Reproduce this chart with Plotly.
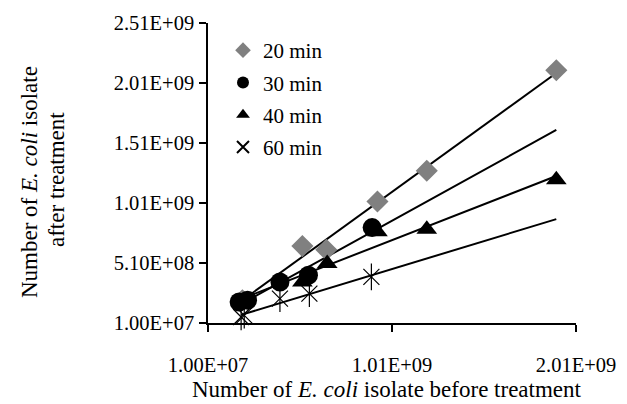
import numpy as np
import plotly.graph_objects as go

# ---- data ----
x20 = [0.197e9, 0.523e9, 0.653e9, 0.931e9, 1.199e9, 1.903e9]
y20 = [0.200e9, 0.651e9, 0.620e9, 1.022e9, 1.279e9, 2.116e9]

x30 = [0.179e9, 0.225e9, 0.401e9, 0.556e9, 0.902e9]
y30 = [0.185e9, 0.200e9, 0.352e9, 0.408e9, 0.805e9]

x40 = [0.197e9, 0.523e9, 0.658e9, 0.931e9, 1.199e9, 1.903e9]
y40 = [0.190e9, 0.352e9, 0.506e9, 0.771e9, 0.791e9, 1.204e9]

x60 = [0.190e9, 0.207e9, 0.401e9, 0.561e9, 0.898e9]
y60 = [0.060e9, 0.074e9, 0.213e9, 0.255e9, 0.394e9]

series_names = ["20 min", "30 min", "40 min", "60 min"]

x_tickvals = [1.0e7, 1.01e9, 2.01e9]
x_ticktext = ["1.00E+07", "1.01E+09", "2.01E+09"]
y_tickvals = [1.0e7, 5.1e8, 1.01e9, 1.51e9, 2.01e9, 2.51e9]
y_ticktext = ["1.00E+07", "5.10E+08", "1.01E+09", "1.51E+09", "2.01E+09", "2.51E+09"]

x_title = "Number of <i>E. coli</i> isolate before treatment"
y_title_lines = ["Number of <i>E. coli</i> isolate", "after treatment"]

# ---- layout constants ----
W, H = 627, 404
ML, MR, MT, MB = 208, 51, 23, 81
FONT = "Liberation Serif, Times New Roman, serif"

fig = go.Figure()

xmax_all = max(max(x20), max(x30), max(x40), max(x60))

data = [(x20, y20), (x30, y30), (x40, y40), (x60, y60)]
for xs, ys in data:
    k, b = np.polyfit(xs, ys, 1)
    xl = np.array([min(xs), xmax_all])
    fig.add_trace(go.Scatter(x=xl, y=k * xl + b, mode="lines",
                             line=dict(color="black", width=2),
                             showlegend=False, hoverinfo="skip", cliponaxis=False))

fig.add_trace(go.Scatter(x=x20, y=y20, mode="markers", name=series_names[0], legendgroup="a",
                         marker=dict(symbol="diamond", size=17, color="#808080"), cliponaxis=False))
fig.add_trace(go.Scatter(x=x30, y=y30, mode="markers", name=series_names[1], legendgroup="b",
                         marker=dict(symbol="circle", size=19, color="black"), cliponaxis=False))
fig.add_trace(go.Scatter(x=x40, y=y40, mode="markers", name=series_names[2], legendgroup="c",
                         marker=dict(symbol="triangle-up", size=18, color="black"), cliponaxis=False))
fig.add_trace(go.Scatter(x=x60, y=y60, mode="markers", name=series_names[3], legendgroup="d",
                         marker=dict(symbol="x-thin-open", size=16, color="black",
                                     line=dict(width=1.2, color="black")), cliponaxis=False))
fig.add_trace(go.Scatter(x=x60, y=y60, mode="markers", legendgroup="d", showlegend=False,
                         marker=dict(symbol="line-ns-open", size=19, color="black",
                                     line=dict(width=1.2, color="black")), cliponaxis=False))

pw = W - ML - MR
ph = H - MT - MB


def px_x(p):
    return (p - ML) / pw


def px_y(p):
    return 1 - (p - MT) / ph


tickfont = dict(family=FONT, size=20.5, color="black")
titlefont = dict(family=FONT, size=23, color="black")

fig.update_layout(
    width=W, height=H,
    margin=dict(l=ML, r=MR, t=MT, b=MB),
    paper_bgcolor="white", plot_bgcolor="white",
    font=dict(family=FONT, size=18, color="black"),
    showlegend=True,
    legend=dict(x=px_x(223), y=px_y(30), xanchor="left", yanchor="top",
                bgcolor="rgba(0,0,0,0)", font=dict(size=21, family=FONT, color="black"),
                itemsizing="constant", tracegroupgap=2),
    xaxis=dict(range=[1.0e7, 2.01e9], showgrid=False, zeroline=False,
               showline=True, linecolor="black", linewidth=1.5,
               ticks="outside", ticklen=7, tickwidth=1.5, tickcolor="black",
               tickvals=x_tickvals, ticktext=x_ticktext, ticklabelstandoff=16,
               tickfont=tickfont),
    yaxis=dict(range=[1.0e7, 2.51e9], showgrid=False, zeroline=False,
               showline=True, linecolor="black", linewidth=1.5,
               ticks="outside", ticklen=7, tickwidth=1.5, tickcolor="black",
               tickvals=y_tickvals, ticktext=y_ticktext, ticklabelstandoff=1,
               tickfont=tickfont),
    annotations=[
        dict(text=x_title, xref="paper", yref="paper",
             x=px_x(386.5), y=px_y(389), xanchor="center", yanchor="middle",
             showarrow=False, font=titlefont),
        dict(text=y_title_lines[0], xref="paper", yref="paper",
             x=px_x(29), y=px_y(182), xanchor="center", yanchor="middle",
             textangle=-90, showarrow=False, font=titlefont),
        dict(text=y_title_lines[1], xref="paper", yref="paper",
             x=px_x(56), y=px_y(180), xanchor="center", yanchor="middle",
             textangle=-90, showarrow=False, font=titlefont),
    ],
)

fig.write_html("out.html")
